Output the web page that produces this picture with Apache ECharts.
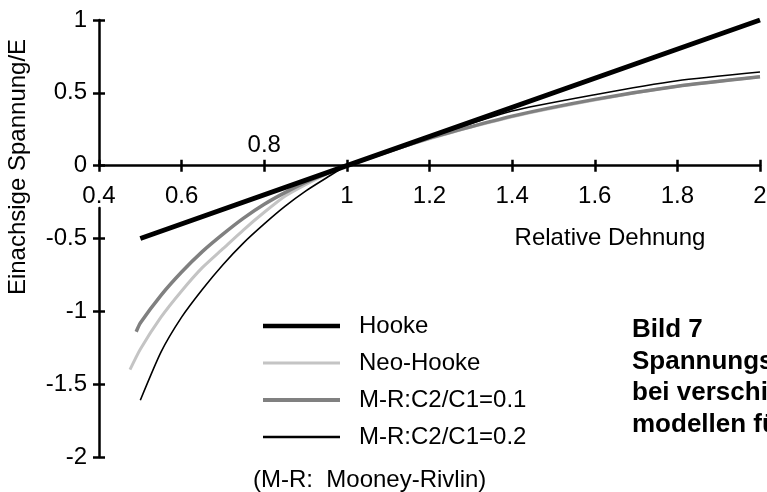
<!DOCTYPE html>
<html><head><meta charset="utf-8">
<script src="https://cdn.jsdelivr.net/npm/echarts@6/dist/echarts.min.js"></script>
<style>html,body{margin:0;padding:0;background:#fff}#c{width:767px;height:492px}</style>
</head><body><div id="c"></div>
<script>
// ---- data ----
const seriesNames = ['Hooke', 'Neo-Hooke', 'M-R:C2/C1=0.1', 'M-R:C2/C1=0.2'];
const hookeX = [0.5, 1.0, 2.0];
const hookeY = [-0.5, 0, 1.0];
const neoX = [0.475, 0.5, 0.55, 0.6, 0.65, 0.7, 0.75, 0.8, 0.85, 0.9, 0.95, 1.0, 1.2, 1.4, 1.6, 1.8, 2.0];
const neoY = [-1.40, -1.26, -1.04, -0.86, -0.70, -0.57, -0.44, -0.32, -0.21, -0.13, -0.06, 0, 0.185, 0.335, 0.45, 0.545, 0.61];
const mr1X = [0.49, 0.5, 0.55, 0.6, 0.65, 0.7, 0.75, 0.8, 0.85, 0.9, 0.95, 1.0, 1.2, 1.4, 1.6, 1.8, 2.0];
const mr1Y = [-1.14, -1.08, -0.89, -0.73, -0.59, -0.47, -0.36, -0.265, -0.185, -0.115, -0.055, 0, 0.19, 0.34, 0.455, 0.545, 0.61];
const mr2X = [0.5, 0.55, 0.6, 0.65, 0.7, 0.75, 0.8, 0.85, 0.9, 0.95, 1.0, 1.2, 1.4, 1.6, 1.8, 2.0];
const mr2Y = [-1.61, -1.28, -1.04, -0.85, -0.68, -0.53, -0.40, -0.28, -0.175, -0.085, 0, 0.195, 0.375, 0.487, 0.583, 0.643];
const xMin = 0.4, xMax = 2.0, xStep = 0.2;
const yMin = -2, yMax = 1, yStep = 0.5;
const xLabelAbove = 0.8;
const yTitle = 'Einachsige Spannung/E';
const xTitle = 'Relative Dehnung';
const noteText = '(M-R:  Mooney-Rivlin)';
const captionLines = ['Bild 7', 'Spannungs-Dehnungs-Kurven', 'bei verschiedenen Material-', 'modellen für Elastomere'];

// ---- chart ----
const FONT = '"Liberation Sans", Arial, Helvetica, sans-serif';
const zip = (xs, ys) => xs.map((x, i) => [x, ys[i]]);
const fmt = v => String(Math.round(v * 10) / 10);
const isAbove = v => Math.abs(v - xLabelAbove) < 1e-6;

const styles = [
  { color: '#000000', width: 5 },
  { color: '#c4c4c4', width: 3 },
  { color: '#808080', width: 3.5 },
  { color: '#000000', width: 1.6 }
];
const legendThick = [4.5, 3, 4, 2.3];
const dataSets = [zip(hookeX, hookeY), zip(neoX, neoY), zip(mr1X, mr1Y), zip(mr2X, mr2Y)];

const iconFor = t => {
  const h = 14, a = (h - t) / 2, b = a + t;
  return 'path://M0,0M77,14M0,' + a + 'H77V' + b + 'H0Z';
};

// plot geometry
const G = { left: 99, right: 7, top: 20, bottom: 35, h: 492 - 20 - 35 };
const zeroY = G.top + G.h * (yMax - 0) / (yMax - yMin);
const gapBottom = 208; // y-axis line resumes below the "0.4" label

const drawOrder = [1, 2, 3, 0];
const series = drawOrder.map(i => ({
  name: seriesNames[i],
  type: 'line',
  xAxisIndex: 0, yAxisIndex: 0,
  data: dataSets[i],
  showSymbol: false, symbol: 'none',
  smooth: i === 0 ? false : 0.2,
  itemStyle: { color: styles[i].color },
  lineStyle: { color: styles[i].color, width: styles[i].width, cap: 'butt' },
  emphasis: { disabled: true },
  animation: false,
  z: 2
}));

const tickStyle = { color: '#000', width: 2.5 };
const axisLineStyle = { color: '#000', width: 2.5 };
const labelBase = { fontSize: 24, color: '#000', fontFamily: FONT };
const gridBase = { left: G.left, right: G.right, containLabel: false, outerBoundsMode: 'none' };
const lineOnlyAxis = { axisLine: { show: true, onZero: false, lineStyle: axisLineStyle },
  axisTick: { show: false }, axisLabel: { show: false }, splitLine: { show: false } };

const chart = echarts.init(document.getElementById('c'), null, { renderer: 'canvas' });
chart.setOption({
  animation: false,
  backgroundColor: '#fff',
  textStyle: { fontFamily: FONT },
  grid: [
    Object.assign({}, gridBase, { top: G.top, bottom: G.bottom }),
    Object.assign({}, gridBase, { top: G.top, height: zeroY - G.top }),
    Object.assign({}, gridBase, { top: zeroY, bottom: G.bottom }),
    Object.assign({}, gridBase, { top: gapBottom, bottom: G.bottom })
  ],
  xAxis: [
    { gridIndex: 0, type: 'value', min: xMin, max: xMax, interval: xStep, show: false },
    {
      gridIndex: 1, type: 'value', min: xMin, max: xMax, interval: xStep, position: 'bottom',
      axisLine: { show: true, onZero: false, lineStyle: axisLineStyle },
      axisTick: { show: true, inside: false, length: 6, lineStyle: tickStyle },
      axisLabel: Object.assign({ show: true, margin: 19, showMinLabel: true, showMaxLabel: true,
        formatter: v => isAbove(v) ? '' : fmt(v) }, labelBase),
      splitLine: { show: false }
    },
    {
      gridIndex: 2, type: 'value', min: xMin, max: xMax, interval: xStep, position: 'top',
      axisLine: { show: false, onZero: false },
      axisTick: { show: true, inside: false, length: 6, lineStyle: tickStyle },
      axisLabel: Object.assign({ show: true, margin: 8,
        formatter: v => isAbove(v) ? fmt(v) : '' }, labelBase),
      splitLine: { show: false }
    },
    { gridIndex: 3, type: 'value', min: xMin, max: xMax, interval: xStep, show: false }
  ],
  yAxis: [
    {
      gridIndex: 0, type: 'value', min: yMin, max: yMax, interval: yStep, position: 'left',
      axisLine: { show: false, onZero: false },
      axisTick: { show: true, inside: false, length: 6, lineStyle: tickStyle },
      axisLabel: Object.assign({ show: true, margin: 12, formatter: v => fmt(v) }, labelBase),
      splitLine: { show: false }
    },
    {
      gridIndex: 0, type: 'value', min: yMin, max: yMax, interval: yStep, position: 'left',
      axisLine: { show: false, onZero: false },
      axisTick: { show: true, inside: true, length: 6, lineStyle: tickStyle },
      axisLabel: { show: false },
      splitLine: { show: false }
    },
    Object.assign({ gridIndex: 1, type: 'value', min: 0, max: yMax, position: 'left' }, lineOnlyAxis),
    { gridIndex: 2, type: 'value', min: yMin, max: 0, show: false },
    Object.assign({ gridIndex: 3, type: 'value', min: yMin, max: 0, position: 'left' }, lineOnlyAxis)
  ],
  legend: {
    orient: 'vertical', left: 258, top: 309,
    itemWidth: 77, itemHeight: 14, itemGap: 13,
    selectedMode: false,
    itemStyle: { borderWidth: 0 },
    textStyle: { fontSize: 24, color: '#000', fontFamily: FONT, lineHeight: 24, padding: [0, 0, 0, 14] },
    data: seriesNames.map((n, i) => ({
      name: n, icon: iconFor(legendThick[i]),
      itemStyle: { color: styles[i].color, borderWidth: 0 }
    }))
  },
  graphic: [
    { type: 'text', x: 18, y: 167, rotation: Math.PI / 2,
      style: { text: yTitle, font: '24px ' + FONT, fill: '#000', textAlign: 'center', textVerticalAlign: 'middle', align: 'center', verticalAlign: 'middle' } },
    { type: 'text', x: 610, y: 238,
      style: { text: xTitle, font: '24px ' + FONT, fill: '#000', textAlign: 'center', textVerticalAlign: 'middle', align: 'center', verticalAlign: 'middle' } },
    { type: 'text', x: 253, y: 480,
      style: { text: noteText, font: '24px ' + FONT, fill: '#000', textAlign: 'left', textVerticalAlign: 'middle', align: 'left', verticalAlign: 'middle' } }
  ].concat(captionLines.map((t, i) => ({
    type: 'text', x: 632, y: 330 + i * 31.5,
    style: { text: t, font: 'bold 26px ' + FONT, fill: '#000', textAlign: 'left', textVerticalAlign: 'middle', align: 'left', verticalAlign: 'middle' }
  }))),
  series: series
});
</script>
</body></html>
